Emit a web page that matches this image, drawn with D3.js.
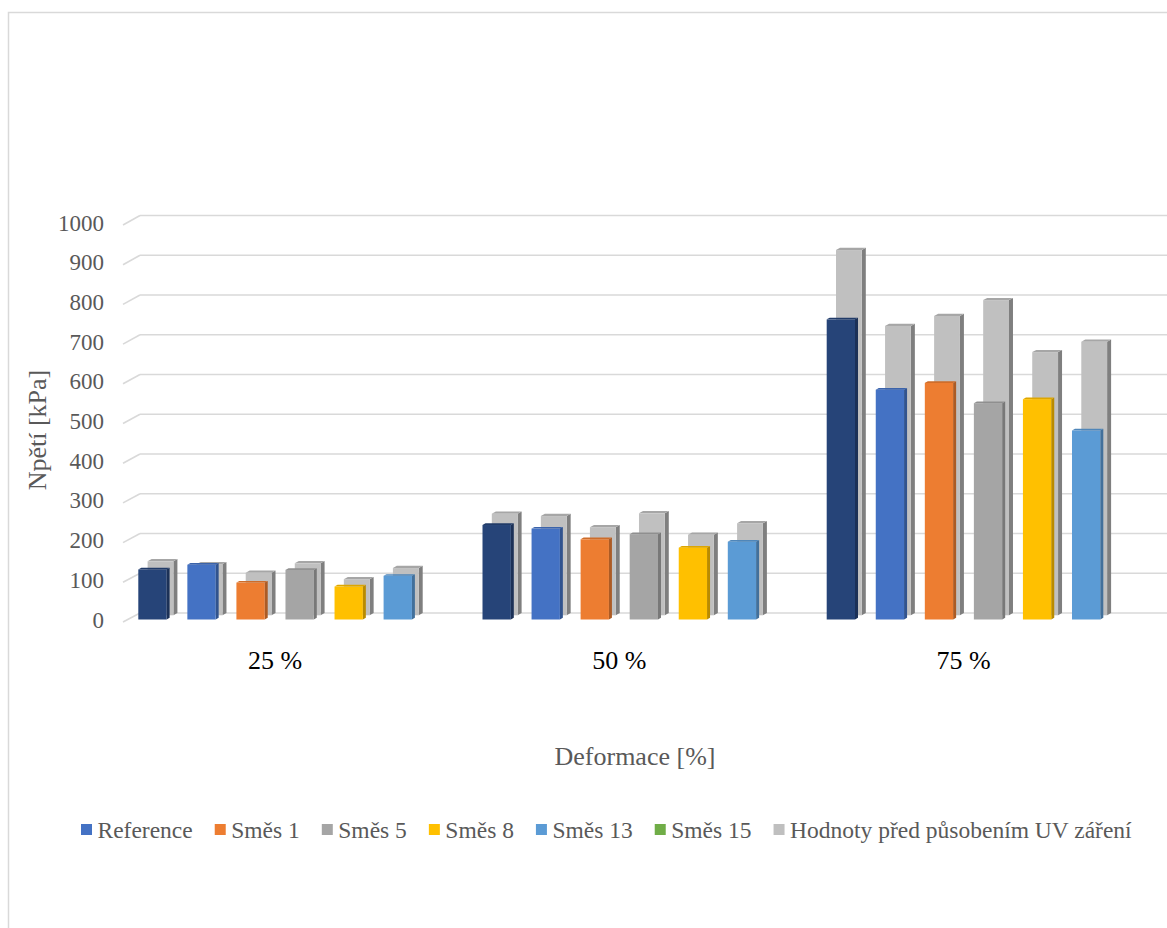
<!DOCTYPE html>
<html>
<head>
<meta charset="utf-8">
<script src="https://cdn.jsdelivr.net/npm/d3@7"></script>
<style>
  html, body { margin: 0; padding: 0; background: #fff; }
  svg { display: block; }
  text { font-family: "Liberation Serif", "Times New Roman", serif; }
</style>
</head>
<body>
<svg id="chart" width="1167" height="928"></svg>
<script>
// Compression stress of the mixtures after UV exposure, with values before exposure behind
const categories = ["25 %", "50 %", "75 %"];
const seriesNames = ["Reference", "Směs 1", "Směs 5", "Směs 8", "Směs 13", "Směs 15"];

// After UV exposure (front row), one array per category
const after25 = [126, 138, 93, 125, 83, 110];
const after50 = [238, 229, 202, 215, 181, 196];
const after75 = [756, 579, 596, 545, 555, 476];

// Before UV exposure (back row, grey)
const before25 = [136, 129, 107, 131, 91, 119];
const before50 = [256, 250, 222, 257, 203, 232];
const before75 = [920, 729, 754, 794, 663, 689];

const yTicks = [0, 100, 200, 300, 400, 500, 600, 700, 800, 900, 1000];

const legendLabels = ["Reference", "Směs 1", "Směs 5", "Směs 8", "Směs 13", "Směs 15", "Hodnoty před působením UV záření"];
const legendColors = ["#4472C4", "#ED7D31", "#A5A5A5", "#FFC000", "#5B9BD5", "#70AD47", "#BFBFBF"];

const barColors = ["#264478", "#4472C4", "#ED7D31", "#A5A5A5", "#FFC000", "#5B9BD5"];
const backColor = "#C0C0C0";

const afterValues = [after25, after50, after75];
const beforeValues = [before25, before50, before75];

const svg = d3.select("#chart");

// Outer chart border
svg.append("rect")
  .attr("x", 8.5).attr("y", 12.5)
  .attr("width", 1200).attr("height", 1000)
  .attr("fill", "none").attr("stroke", "#d9d9d9").attr("stroke-width", 1.5);

// Scales: category bands, series slots, and value scales for the front,
// middle (grey row) and back-wall planes of the oblique projection
const x0 = d3.scaleBand().domain(categories).range([103, 1135.6]);
const x1 = d3.scaleBand().domain(seriesNames).range([-136.8, 136.8]).paddingInner(0.423).paddingOuter(0);
const yFront = d3.scaleLinear().domain([0, 1000]).range([619.5, 222.5]);
const yMid = d3.scaleLinear().domain([0, 1000]).range([615.3, 218.3]);
const yWall = d3.scaleLinear().domain([0, 1000]).range([613, 215.5]);
const yLab = d3.scaleLinear().domain([0, 1000]).range([622, 225]);

// Gridlines on the back wall with slanted ticks from the front edge
const grid = svg.append("g");
grid.selectAll("line.g").data(yTicks).join("line")
  .attr("x1", 140).attr("x2", 1167)
  .attr("y1", d => yWall(d)).attr("y2", d => yWall(d))
  .attr("stroke", "#d9d9d9").attr("stroke-width", 1.6);
grid.selectAll("line.s").data(yTicks).join("line")
  .attr("x1", 123).attr("x2", 140)
  .attr("y1", d => yLab(d)).attr("y2", d => yWall(d))
  .attr("stroke", "#d9d9d9").attr("stroke-width", 1.6);

// Y tick labels
svg.append("g").selectAll("text").data(yTicks).join("text")
  .attr("x", 104).attr("y", d => yLab(d) - 2)
  .attr("text-anchor", "end").attr("dominant-baseline", "central")
  .attr("font-size", 23).attr("fill", "#595959")
  .text(d => d);

// Draws a column as a box: front face, right side and top
function box(g, x, w, base, top, dx, dy, color, side, topC) {
  g.append("path")
    .attr("d", `M${x + w},${top}L${x + w + dx},${top - dy}L${x + w + dx},${base - dy}L${x + w},${base}Z`)
    .attr("fill", side);
  g.append("path")
    .attr("d", `M${x},${top}L${x + dx},${top - dy}L${x + w + dx},${top - dy}L${x + w},${top}Z`)
    .attr("fill", topC);
  g.append("rect")
    .attr("x", x).attr("y", top)
    .attr("width", w).attr("height", Math.max(0, base - top))
    .attr("fill", color);
}

const bars = svg.append("g");
const bw = x1.bandwidth();

// Grey columns (before UV) sit one step deeper
categories.forEach((c, ci) => {
  seriesNames.forEach((s, si) => {
    const x = x0(c) + x0.bandwidth() / 2 + x1(s) + 9.3;
    const v = beforeValues[ci][si];
    box(bars, x, bw - 2.5, yMid(0), yMid(v), 4, 2.2, backColor, "#7f7f7f", "#a6a6a6");
  });
});

// Coloured columns (after UV) in front
categories.forEach((c, ci) => {
  seriesNames.forEach((s, si) => {
    const x = x0(c) + x0.bandwidth() / 2 + x1(s);
    const v = afterValues[ci][si];
    const col = d3.color(barColors[si]);
    box(bars, x, bw, yFront(0), yFront(v), 3, 1.7, barColors[si],
      col.darker(0.9).formatHex(), col.darker(0.4).formatHex());
  });
});

// Category labels
svg.append("g").selectAll("text").data(categories).join("text")
  .attr("x", d => x0(d) + x0.bandwidth() / 2).attr("y", 660)
  .attr("text-anchor", "middle").attr("dominant-baseline", "central")
  .attr("font-size", 26).attr("fill", "#000")
  .text(d => d);

// Axis titles
svg.append("text")
  .attr("x", 635).attr("y", 756)
  .attr("text-anchor", "middle").attr("dominant-baseline", "central")
  .attr("font-size", 26).attr("fill", "#595959")
  .text("Deformace [%]");

svg.append("text")
  .attr("transform", "translate(37,430) rotate(-90)")
  .attr("text-anchor", "middle").attr("dominant-baseline", "central")
  .attr("font-size", 26).attr("fill", "#595959")
  .text("Npětí [kPa]");

// Legend laid out left to right
const legend = svg.append("g");
let lx = 81;
legendLabels.forEach((lab, i) => {
  legend.append("rect")
    .attr("x", lx).attr("y", 824).attr("width", 11).attr("height", 11)
    .attr("fill", legendColors[i]);
  const t = legend.append("text")
    .attr("x", lx + 16.5).attr("y", 829.5)
    .attr("dominant-baseline", "central")
    .attr("font-size", 23.5).attr("fill", "#595959")
    .text(lab);
  lx += 16.5 + t.node().getComputedTextLength() + 22;
});
</script>
</body>
</html>
